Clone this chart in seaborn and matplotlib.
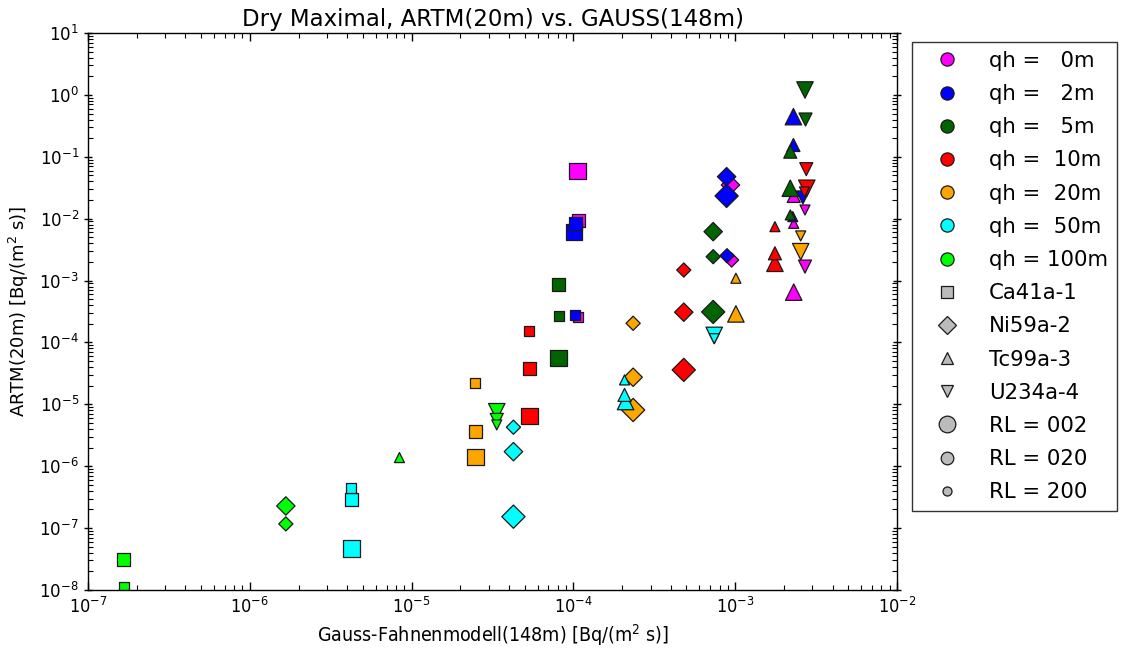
import numpy as np
import pandas as pd
import matplotlib
matplotlib.use("Agg")
import matplotlib.pyplot as plt
import seaborn as sns
from matplotlib.lines import Line2D
from matplotlib.ticker import FixedLocator, NullFormatter, LogFormatterSciNotation

# ---------------- data ----------------
qh_levels = ["0", "2", "5", "10", "20", "50", "100"]
qh_colors = ["#FF00FF", "#0000FF", "#006400", "#FF0000", "#FFA500", "#00FFFF", "#00FF00"]
nuclides = ["Ca41a-1", "Ni59a-2", "Tc99a-3", "U234a-4"]
nuclide_markers = ["s", "D", "^", "v"]
rl_levels = ["002", "020", "200"]

# Ca41a-1 (squares)
ca_x = [1.06e-4, 1.07e-4, 1.07e-4, 1.01e-4, 1.03e-4, 1.03e-4, 8.1e-5, 8.1e-5, 8.1e-5,
        5.35e-5, 5.35e-5, 5.35e-5, 2.48e-5, 2.48e-5, 2.48e-5, 4.25e-6, 4.25e-6, 4.25e-6,
        1.66e-7, 1.66e-7]
ca_y = [0.059, 9.5e-3, 2.6e-4, 6.1e-3, 8.5e-3, 2.8e-4, 5.56e-5, 8.5e-4, 2.68e-4,
        6.5e-6, 3.83e-5, 1.55e-4, 1.40e-6, 3.67e-6, 2.19e-5, 4.67e-8, 2.89e-7, 4.5e-7,
        3.06e-8, 1.1e-8]
ca_qh = ["0", "0", "0", "2", "2", "2", "5", "5", "5", "10", "10", "10",
         "20", "20", "20", "50", "50", "50", "100", "100"]
ca_rl = ["002", "020", "200", "002", "020", "200", "002", "020", "200", "002", "020", "200",
         "002", "020", "200", "002", "020", "200", "020", "200"]

# Ni59a-2 (diamonds)
ni_x = [9.35e-4, 9.5e-4, 8.85e-4, 8.85e-4, 8.9e-4, 7.31e-4, 7.31e-4, 7.31e-4,
        4.81e-4, 4.81e-4, 4.81e-4, 2.34e-4, 2.34e-4, 2.34e-4, 4.26e-5, 4.26e-5, 4.26e-5,
        1.67e-6, 1.67e-6]
ni_y = [0.035, 2.15e-3, 0.0233, 0.0477, 2.52e-3, 3.11e-4, 6.17e-3, 2.43e-3,
        3.6e-5, 3.08e-4, 1.48e-3, 8.1e-6, 2.74e-5, 2.04e-4, 1.53e-7, 1.72e-6, 4.27e-6,
        2.28e-7, 1.17e-7]
ni_qh = ["0", "0", "2", "2", "2", "5", "5", "5", "10", "10", "10",
         "20", "20", "20", "50", "50", "50", "100", "100"]
ni_rl = ["020", "200", "002", "020", "200", "002", "020", "200", "002", "020", "200",
         "002", "020", "200", "002", "020", "200", "020", "200"]

# Tc99a-3 (triangles up)
tc_x = [2.3e-3, 2.3e-3, 2.3e-3, 2.29e-3, 2.29e-3, 2.27e-3, 2.19e-3, 2.19e-3, 2.19e-3,
        1.76e-3, 1.76e-3, 1.76e-3, 1.01e-3, 1.01e-3, 2.1e-4, 2.07e-4, 2.07e-4, 8.41e-6]
tc_y = [6.5e-4, 0.0233, 8.4e-3, 0.445, 0.155, 0.0108, 0.031, 0.121, 0.0115,
        1.9e-3, 2.76e-3, 7.43e-3, 2.89e-4, 1.09e-3, 1.11e-5, 1.42e-5, 2.48e-5, 1.38e-6]
tc_qh = ["0", "0", "0", "2", "2", "2", "5", "5", "5", "10", "10", "10",
         "20", "20", "50", "50", "50", "100"]
tc_rl = ["002", "020", "200", "002", "020", "200", "002", "020", "200", "002", "020", "200",
         "002", "200", "002", "020", "200", "200"]

# U234a-4 (triangles down)
u_x = [2.7e-3, 2.7e-3, 2.62e-3, 2.7e-3, 2.72e-3, 2.77e-3, 2.75e-3, 2.68e-3,
       2.54e-3, 2.54e-3, 7.42e-4, 7.42e-4, 3.36e-5, 3.36e-5, 3.36e-5]
u_y = [1.68e-3, 0.0138, 0.022, 1.2, 0.40, 0.031, 0.063, 0.027,
       2.93e-3, 5.26e-3, 1.3e-4, 1.15e-4, 7.6e-6, 5.6e-6, 4.65e-6]
u_qh = ["0", "0", "2", "5", "5", "10", "10", "10", "20", "20", "50", "50",
        "100", "100", "100"]
u_rl = ["020", "200", "020", "002", "020", "002", "020", "200", "002", "200",
        "002", "200", "002", "020", "200"]

x_decades = [-7, -6, -5, -4, -3, -2]
y_decades = [-8, -7, -6, -5, -4, -3, -2, -1, 0, 1]

# ---------------- table ----------------
frames = []
for nuc, xs, ys, qs, rs in [("Ca41a-1", ca_x, ca_y, ca_qh, ca_rl),
                            ("Ni59a-2", ni_x, ni_y, ni_qh, ni_rl),
                            ("Tc99a-3", tc_x, tc_y, tc_qh, tc_rl),
                            ("U234a-4", u_x, u_y, u_qh, u_rl)]:
    frames.append(pd.DataFrame({"gauss": xs, "artm": ys, "qh": qs, "rl": rs, "nuclide": nuc}))
df = pd.concat(frames, ignore_index=True)

# ---------------- plot ----------------
plt.rcParams["font.family"] = ["DejaVu Sans"]
plt.rcParams["mathtext.default"] = "regular"

fig = plt.figure(figsize=(11.23, 6.52), dpi=100)
ax = fig.add_axes([88 / 1123, 1 - 590 / 652, (897 - 88) / 1123, (590 - 33) / 652])

size_map = {"002": 140, "020": 88, "200": 52}
sns.scatterplot(data=df, x="gauss", y="artm", hue="qh", hue_order=qh_levels,
                palette=dict(zip(qh_levels, qh_colors)),
                style="nuclide", style_order=nuclides,
                markers=dict(zip(nuclides, nuclide_markers)),
                size="rl", size_order=rl_levels, sizes=size_map,
                edgecolor="#1a1a1a", linewidth=0.9, alpha=1.0,
                legend=False, ax=ax)

ax.set_xscale("log")
ax.set_yscale("log")
ax.set_xlim(1e-7, 1e-2)
ax.set_ylim(1e-8, 1e1)

xmaj = [10.0 ** d for d in x_decades]
ymaj = [10.0 ** d for d in y_decades]
xmin = [s * 10.0 ** d for d in x_decades[:-1] for s in range(2, 10)]
ymin = [s * 10.0 ** d for d in y_decades[:-1] for s in range(2, 10)]
ax.xaxis.set_major_locator(FixedLocator(xmaj))
ax.yaxis.set_major_locator(FixedLocator(ymaj))
ax.xaxis.set_minor_locator(FixedLocator(xmin))
ax.yaxis.set_minor_locator(FixedLocator(ymin))
ax.xaxis.set_major_formatter(LogFormatterSciNotation())
ax.yaxis.set_major_formatter(LogFormatterSciNotation())
ax.xaxis.set_minor_formatter(NullFormatter())
ax.yaxis.set_minor_formatter(NullFormatter())

ax.tick_params(axis="x", which="both", direction="in", top=True, bottom=True)
ax.tick_params(axis="y", which="major", direction="inout", left=True, right=True)
ax.tick_params(axis="y", which="minor", direction="in", left=True, right=True)
ax.tick_params(which="major", length=6, width=1, color="black")
ax.tick_params(which="minor", length=3.5, width=0.8, color="black")
ax.tick_params(axis="y", which="major", labelsize=12)
ax.tick_params(axis="x", which="major", labelsize=13, pad=5)
for lab in ax.get_xticklabels():
    lab.set_fontstretch("condensed")
for sp in ax.spines.values():
    sp.set_color("black")
    sp.set_linewidth(1.0)

ax.set_title("Dry Maximal, ARTM(20m) vs. GAUSS(148m)", fontsize=16.5, pad=5)
ax.set_xlabel("Gauss-Fahnenmodell(148m) [Bq/(m$^2$ s)]", fontsize=14, labelpad=4,
              fontstretch="condensed")
ax.set_ylabel("ARTM(20m) [Bq/(m$^2$ s)]", fontsize=13, labelpad=6)

# ---------------- legend ----------------
edge = "#1a1a1a"
grey = "#BBBBBB"
handles, labels = [], []
for q, c in zip(qh_levels, qh_colors):
    handles.append(Line2D([], [], ls="none", marker="o", markersize=9.5,
                          markerfacecolor=c, markeredgecolor=edge, markeredgewidth=0.9))
    labels.append("qh = " + q.rjust(3, " ") + "m")
shape_sizes = [8.6, 9.0, 8.8, 8.8]
for n, m, ms in zip(nuclides, nuclide_markers, shape_sizes):
    handles.append(Line2D([], [], ls="none", marker=m, markersize=ms,
                          markerfacecolor=grey, markeredgecolor=edge, markeredgewidth=0.9))
    labels.append(n)
for r, ms in zip(rl_levels, [12, 9.1, 6.5]):
    handles.append(Line2D([], [], ls="none", marker="o", markersize=ms,
                          markerfacecolor=grey, markeredgecolor=edge, markeredgewidth=0.9))
    labels.append("RL = " + r)

leg = fig.legend(handles, labels, loc="upper left",
                 bbox_to_anchor=(912 / 1123, 1 - 42 / 652), bbox_transform=fig.transFigure,
                 frameon=True, fancybox=False, edgecolor="black", fontsize=15.3,
                 labelspacing=0.62, handlelength=2.5, handletextpad=0.7, borderpad=0.42,
                 borderaxespad=0)
leg.get_frame().set_linewidth(1.0)

fig.savefig("out.png", dpi=100)
